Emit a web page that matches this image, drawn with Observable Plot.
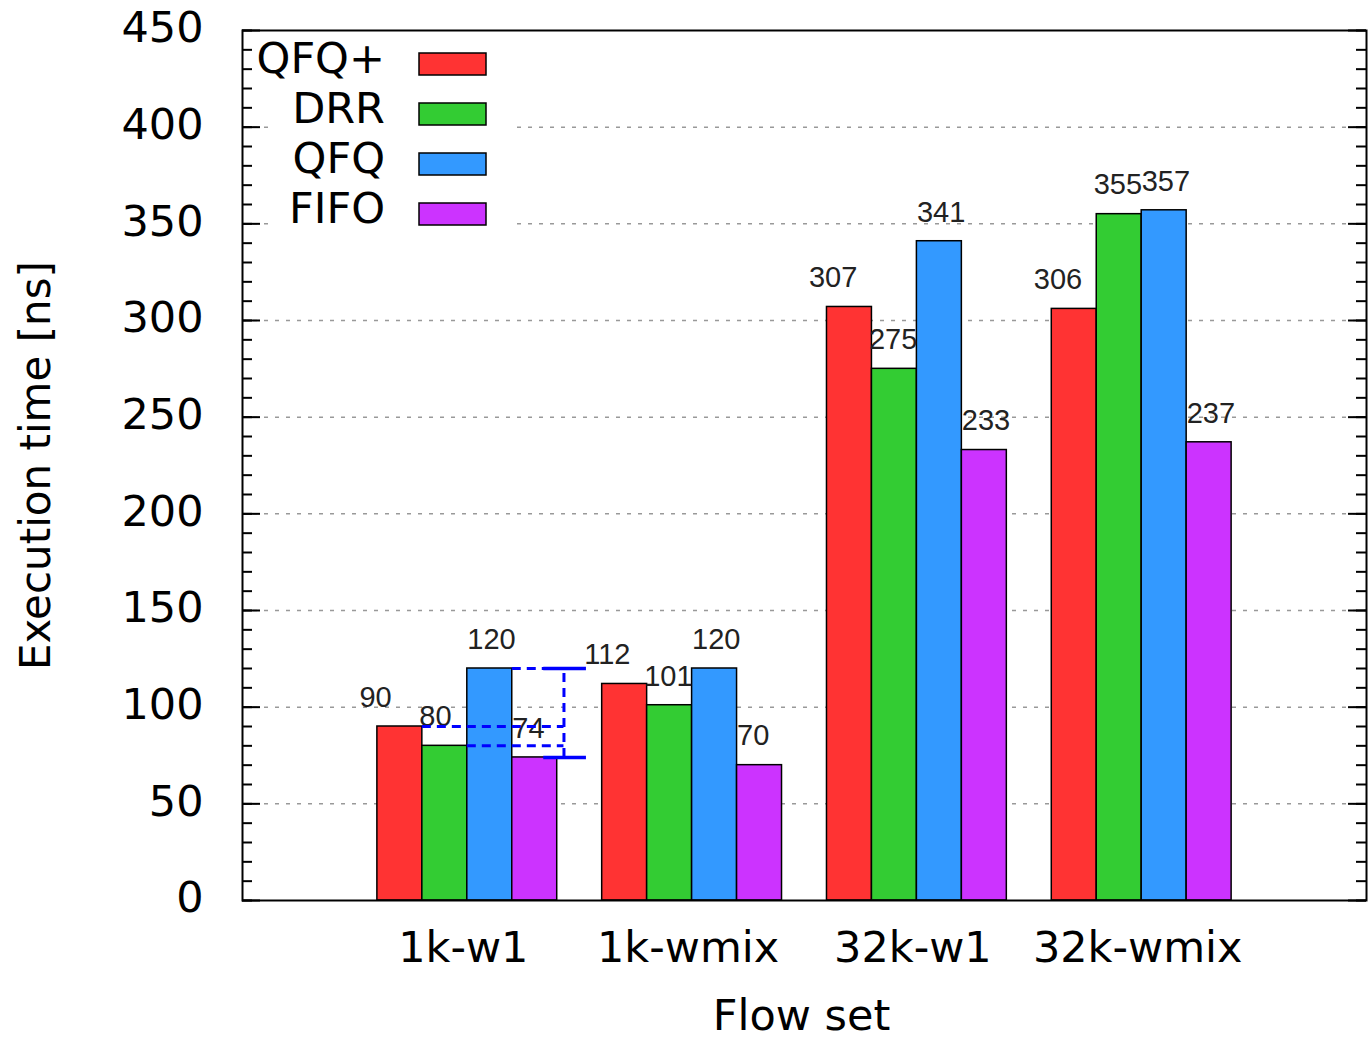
<!DOCTYPE html>
<html><head><meta charset="utf-8">
<script src="https://cdn.jsdelivr.net/npm/d3@7"></script>
<script src="https://cdn.jsdelivr.net/npm/@observablehq/plot@0.6"></script>
<style>body{margin:0;background:#fff;}</style>
</head><body><div id="chart"></div>
<script>
const categories = ["1k-w1", "1k-wmix", "32k-w1", "32k-wmix"];
const seriesNames = ["QFQ+", "DRR", "QFQ", "FIFO"];
const seriesColors = ["#ff3333", "#33cc33", "#3399ff", "#cc33ff"];
const qfqPlus = [90, 112, 307, 306];
const drr = [80, 101, 275, 355];
const qfq = [120, 120, 341, 357];
const fifo = [74, 70, 233, 237];
const yTicks = [0, 50, 100, 150, 200, 250, 300, 350, 400, 450];
const yMinorTicks = d3.range(0, 451, 10);
const gridTicks = [50, 100, 150, 200, 250, 300, 350, 400];
const xLabel = "Flow set";
const yLabel = "Execution time [ns]";

const seriesValues = [qfqPlus, drr, qfq, fifo];
const labelDx = [-18, -3, 0, 0];
const barWidth = 0.2;
const data = [];
categories.forEach((c, i) => seriesValues.forEach((vals, j) => data.push({
  category: c, gi: i, sj: j, series: seriesNames[j], value: vals[i],
  x1: i + (j - 2) * barWidth, x2: i + (j - 1) * barWidth
})));

// range annotation on the first group
const annot = data.filter(d => d.gi === 0);
const bx = 0.43;
const leaders = annot.filter(d => d.sj < 3).map(d => ({x1: d.x2, x2: bx, y: d.value}));
const lo = d3.min(annot, d => d.value), hi = d3.max(annot, d => d.value);

const W = 1370, H = 1040, ML = 242, MR = 4, MT = 30, MB = 140;
const frameW = W - ML - MR;
const FONT = "DejaVu Sans";
const FS = 43;

function legend() {
  const g = d3.create("svg:g");
  g.append("rect").attr("x", 270).attr("y", 32).attr("width", 242).attr("height", 204).attr("fill", "white");
  seriesNames.forEach((n, j) => {
    g.append("text").attr("x", 385).attr("y", 73 + 50 * j)
      .attr("text-anchor", "end").attr("font-family", FONT).attr("font-size", FS).attr("fill", "black").text(n);
    g.append("rect").attr("x", 419).attr("y", 53 + 50 * j).attr("width", 67).attr("height", 22)
      .attr("fill", seriesColors[j]).attr("stroke", "black").attr("stroke-width", 1.5);
  });
  return g.node();
}

const marks = [
  Plot.ruleY(gridTicks, {stroke: "#999", strokeWidth: 1.5, strokeDasharray: "4,7"}),
  legend,
  Plot.rectY(data, {x1: "x1", x2: "x2", y: "value", fill: "series", stroke: "black", strokeWidth: 1.5}),
  ...seriesNames.map((s, j) => Plot.text(data.filter(d => d.sj === j), {
    x: "x1", y: d => d.value + 15, text: d => String(d.value), textAnchor: "start", dx: labelDx[j],
    fontFamily: "Liberation Sans", fontSize: 29, fill: "#222"
  })),
  Plot.ruleY(leaders, {x1: "x1", x2: "x2", y: "y", stroke: "#0000ff", strokeWidth: 3, strokeDasharray: "9,6"}),
  Plot.ruleX([bx], {y1: lo, y2: hi, stroke: "#0000ff", strokeWidth: 3, strokeDasharray: "9,6"}),
  Plot.ruleY([lo, hi], {x1: 0.34, x2: 0.53, stroke: "#0000ff", strokeWidth: 3.5}),
  Plot.ruleY(yTicks, {insetRight: frameW - 18, stroke: "black", strokeWidth: 2}),
  Plot.ruleY(yTicks, {insetLeft: frameW - 18, stroke: "black", strokeWidth: 2}),
  Plot.ruleY(yMinorTicks, {insetRight: frameW - 10, stroke: "black", strokeWidth: 2}),
  Plot.ruleY(yMinorTicks, {insetLeft: frameW - 10, stroke: "black", strokeWidth: 2}),
  Plot.frame({stroke: "black", strokeWidth: 2}),
  Plot.text(yTicks, {y: d => d, text: d => String(d), frameAnchor: "left", dx: -39, dy: -2, textAnchor: "end",
    lineAnchor: "middle", fontFamily: FONT, fontSize: FS, fill: "black"}),
  Plot.text(categories, {x: (d, i) => i, text: d => d, frameAnchor: "bottom", dy: 48, dx: -4,
    textAnchor: "middle", lineAnchor: "middle", fontFamily: FONT, fontSize: FS, fill: "black"}),
  Plot.text([xLabel], {text: d => d, frameAnchor: "bottom", dy: 116, dx: -3, textAnchor: "middle", lineAnchor: "middle",
    fontFamily: FONT, fontSize: FS, fill: "black"}),
  Plot.text([yLabel], {text: d => d, frameAnchor: "left", dx: -206, rotate: -90, textAnchor: "middle", lineAnchor: "middle",
    fontFamily: FONT, fontSize: 42, fill: "black"})
];

const chart = Plot.plot({
  width: W, height: H,
  marginLeft: ML, marginRight: MR, marginTop: MT, marginBottom: MB,
  style: {fontFamily: FONT, background: "white", overflow: "visible"},
  x: {domain: [-1, 4], axis: null},
  y: {domain: [0, 450], axis: null},
  color: {domain: seriesNames, range: seriesColors},
  marks
});
document.getElementById("chart").appendChild(chart);
</script>
</body></html>
